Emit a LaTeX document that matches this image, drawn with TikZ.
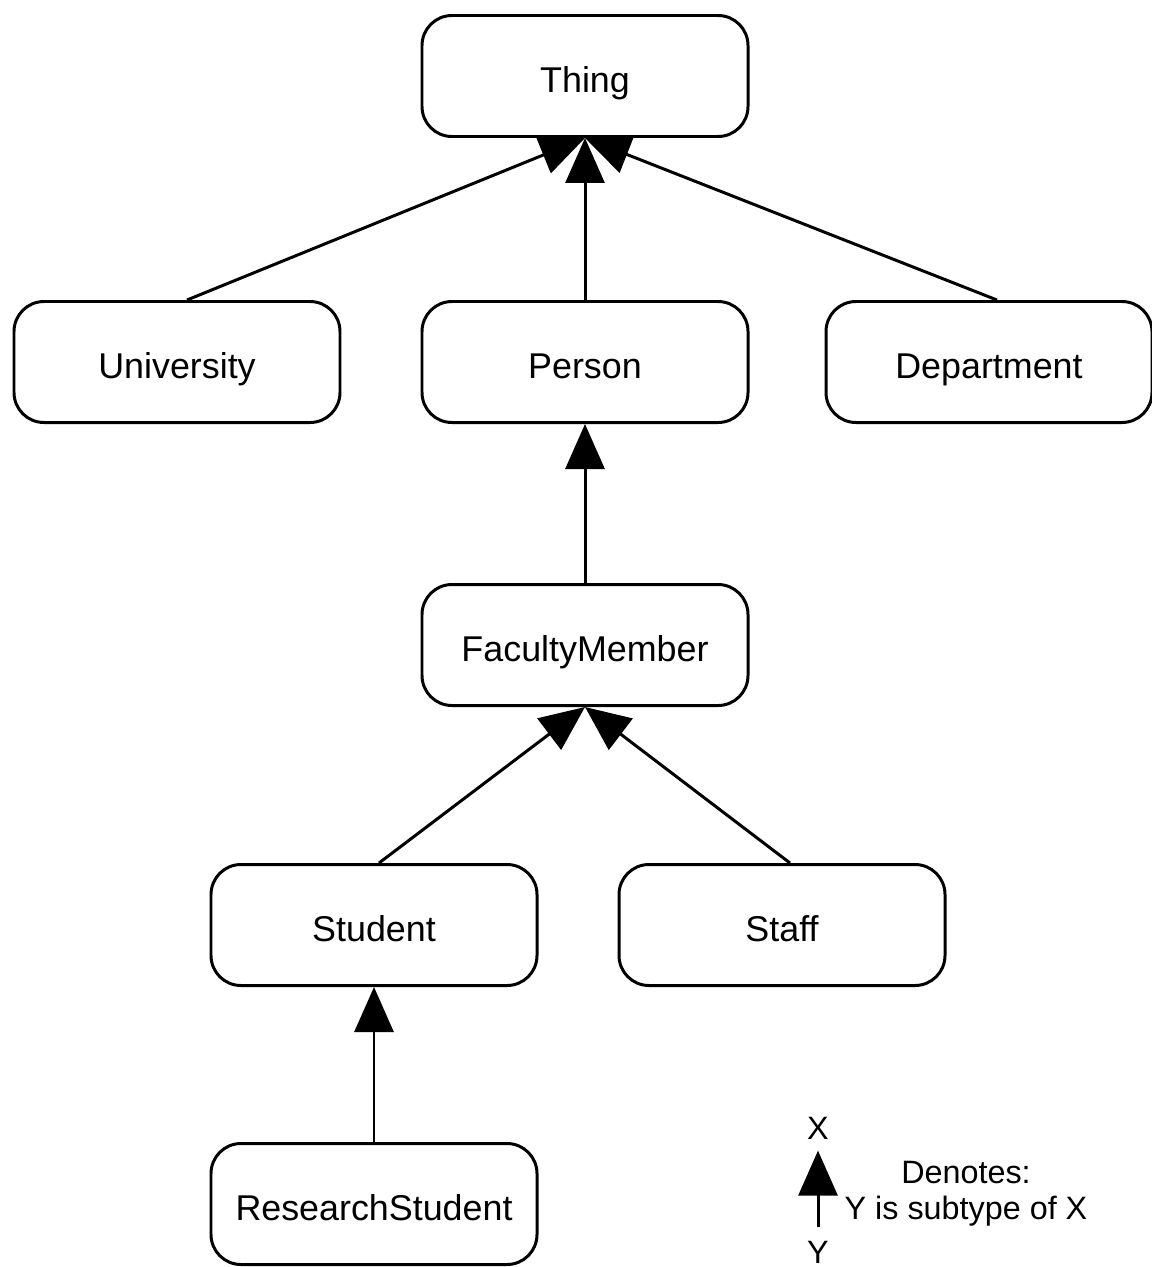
\documentclass[tikz,border=0pt]{standalone}
\usepackage{fontspec}
\setmainfont{Liberation Sans}
\usepackage{tikz}
\usetikzlibrary{arrows.meta}

\begin{document}
\begin{tikzpicture}[line width=0.85pt, font=\fontsize{10.2}{12.5}\selectfont,
  cls/.style={draw, rounded corners=0.3cm, minimum width=3.26cm, minimum height=1.21cm,
    text height=0.36cm, text depth=0.04cm},
  isa/.style={-{Triangle[length=0.45cm, width=0.39cm]}},
  legend/.style={font=\fontsize{9.2}{10.3}\selectfont}]

% Fix the page size
\useasboundingbox (0,0) rectangle (11.52,-12.67);

% Draw the class boxes
\node[cls] (thing) at (5.85,-0.76) {Thing};
\node[cls] (university) at (1.77,-3.62) {University};
\node[cls] (person) at (5.85,-3.62) {Person};
\node[cls] (department) at (9.89,-3.62) {Department};
\node[cls] (faculty) at (5.85,-6.45) {FacultyMember};
\node[cls] (student) at (3.74,-9.25) {Student};
\node[cls] (staff) at (7.82,-9.25) {Staff};
\node[cls] (research) at (3.74,-12.04) {ResearchStudent};

% Draw the subtype arrows
\draw[isa] ([xshift=0.1cm]university.north) -- (thing.south);
\draw[isa] (person.north) -- (thing.south);
\draw[isa] ([xshift=0.08cm]department.north) -- (thing.south);
\draw[isa] (faculty.north) -- (person.south);
\draw[isa] ([xshift=0.05cm]student.north) -- (faculty.south);
\draw[isa] ([xshift=0.08cm]staff.north) -- (faculty.south);
\draw[isa] (research.north) -- (student.south);

% Place the legend
\node[legend, inner sep=0.1cm] (legx) at (8.18,-11.28) {X};
\node[legend, inner sep=0.12cm] (legy) at (8.18,-12.52) {Y};
\draw[isa] (legy) -- (legx);
\node[legend, align=center] (legtext) at (9.66,-11.94) {Denotes:\\Y is subtype of X};

\end{tikzpicture}
\end{document}
